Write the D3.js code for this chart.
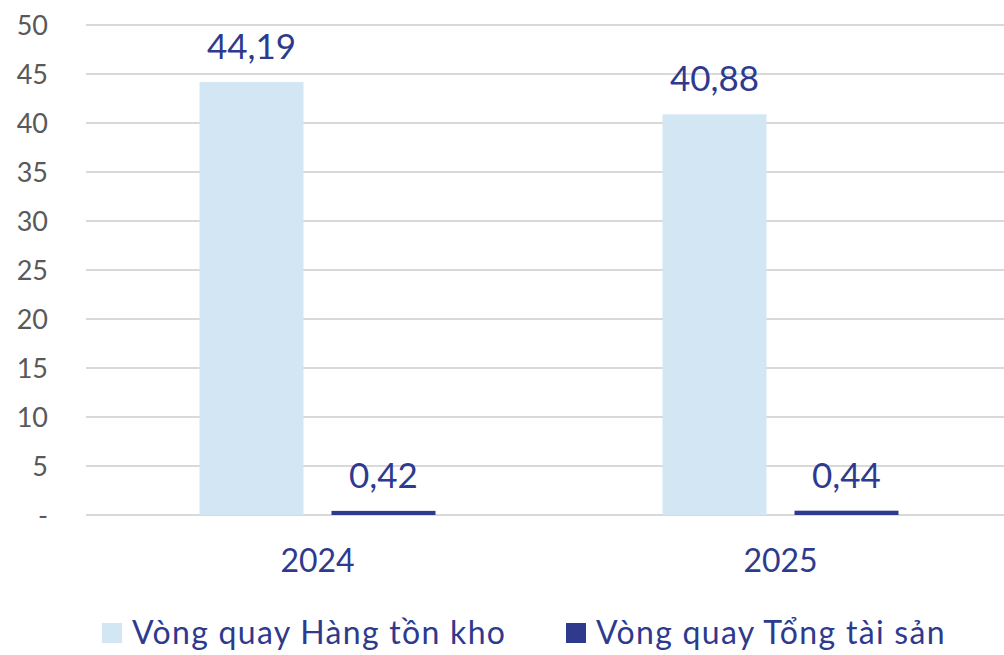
<!DOCTYPE html>
<html><head><meta charset="utf-8">
<script src="https://cdn.jsdelivr.net/npm/d3@7"></script>
<style>html,body{margin:0;padding:0;background:#fff;}svg{display:block;}</style>
</head><body>
<svg id="c" width="1004" height="655"></svg>
<script>
const categories = ["2024", "2025"];
const seriesNames = ["Vòng quay Hàng tồn kho", "Vòng quay Tổng tài sản"];
const inventoryTurnover = [44.19, 40.88];
const assetTurnover = [0.42, 0.44];
const yTicks = [0, 5, 10, 15, 20, 25, 30, 35, 40, 45, 50];
const yTickLabels = ["-", "5", "10", "15", "20", "25", "30", "35", "40", "45", "50"];
const seriesColors = ["#D2E6F3", "#2E3A8E"];

const font = "Lato, 'Open Sans', sans-serif";
const svg = d3.select("#c");
const x0 = d3.scaleBand().domain(categories).range([86, 1012]).paddingInner(0).paddingOuter(0);
const x1 = d3.scaleBand().domain(seriesNames).range([0, x0.bandwidth()]).paddingInner(0.212).paddingOuter(0.86);
const y = d3.scaleLinear().domain([0, 50]).range([515, 25]);

// gridlines
svg.append("g").selectAll("line").data(yTicks).join("line")
  .attr("x1", 86).attr("x2", 1004)
  .attr("y1", d => y(d)).attr("y2", d => y(d))
  .attr("stroke", "#d9d9d9").attr("stroke-width", 2);

// y axis labels
const yAxis = d3.axisLeft(y).tickValues(yTicks).tickFormat((d, i) => yTickLabels[i]).tickSize(0).tickPadding(0);
const ya = svg.append("g").attr("transform", "translate(48,0)").call(yAxis);
ya.select(".domain").remove();
ya.selectAll("text").attr("font-family", font).attr("font-size", 27).attr("fill", "#595959").attr("dy", "0.35em");

const rows = categories.map((c, i) => ({cat: c, vals: [inventoryTurnover[i], assetTurnover[i]]}));
const g = svg.append("g").selectAll("g").data(rows).join("g")
  .attr("transform", d => `translate(${x0(d.cat)},0)`);
g.selectAll("rect").data(d => d.vals.map((v, j) => ({s: seriesNames[j], v, j}))).join("rect")
  .attr("x", d => x1(d.s)).attr("width", x1.bandwidth())
  .attr("y", d => y(d.v)).attr("height", d => y(0) - y(d.v))
  .attr("fill", d => seriesColors[d.j]);
g.selectAll("text.lbl").data(d => d.vals.map((v, j) => ({s: seriesNames[j], v, j}))).join("text")
  .attr("class", "lbl")
  .attr("x", d => x1(d.s) + x1.bandwidth() / 2)
  .attr("y", d => y(d.v) - 23)
  .attr("text-anchor", "middle").attr("font-family", font).attr("font-size", 35)
  .attr("fill", "#2E3A8E")
  .text(d => d.v.toFixed(2).replace(".", ","));

// x axis labels
const xAxis = d3.axisBottom(x0).tickSize(0).tickPadding(0);
const xa = svg.append("g").attr("transform", "translate(0,572)").call(xAxis);
xa.select(".domain").remove();
xa.selectAll("text").attr("font-family", font).attr("font-size", 32).attr("fill", "#2E3A8E").attr("dy", 0);

// legend
const legendX = [102, 566];
const lg = svg.append("g").selectAll("g").data(seriesNames).join("g")
  .attr("transform", (d, i) => `translate(${legendX[i]},0)`);
lg.append("rect").attr("x", 0).attr("y", 623).attr("width", 20).attr("height", 20)
  .attr("fill", (d, i) => seriesColors[i]);
lg.append("text").attr("x", 30).attr("y", 644).attr("font-family", font).attr("font-size", 32)
  .attr("letter-spacing", 1.3)
  .attr("fill", "#2E3A8E").text(d => d);
</script>
</body></html>
